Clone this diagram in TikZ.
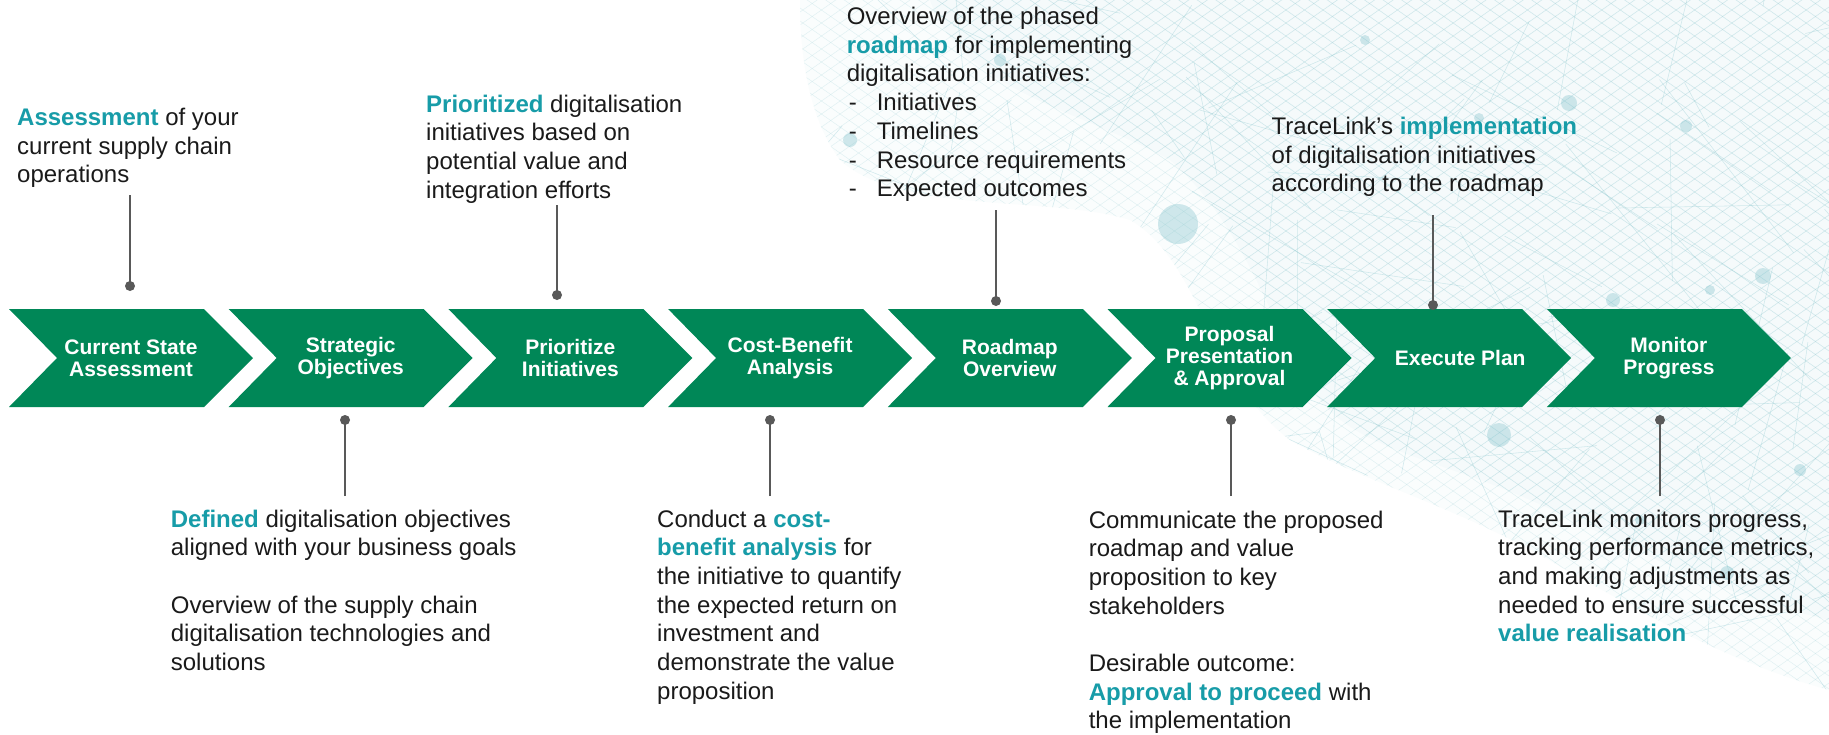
\documentclass[tikz,border=0pt]{standalone}
\usepackage{fontspec}
\setmainfont{Liberation Sans}
\definecolor{chevgreen}{RGB}{0,135,87}
\definecolor{hl}{RGB}{23,156,168}
\definecolor{conn}{RGB}{89,89,89}
\definecolor{txt}{RGB}{26,26,26}
\definecolor{meshc}{RGB}{125,192,202}
\newcommand\hlw[1]{\textcolor{hl}{\bfseries #1}}
\newcommand\mymeshlines[1]{%
  \foreach \c in {-734,-721,...,700}{\draw[meshline,opacity=#1] (780,\c) -- (1829,\c+734);}%
  \foreach \c in {0,13,...,1434}{\draw[meshline,opacity=#1] (780,\c) -- (1829,\c-734);}%
}
\begin{document}
\begin{tikzpicture}[x=1pt,y=-1pt,
  chev/.style={fill=chevgreen},
  chevtext/.style={text=white,font=\fontsize{21}{22.3}\selectfont\bfseries,align=center,inner sep=0pt},
  ann/.style={text=txt,font=\fontsize{24}{28.7}\selectfont,inner sep=0pt,anchor=base west},
  conline/.style={draw=conn,line width=2pt},
  dotn/.style={circle,fill=conn,inner sep=0pt,minimum size=10pt},
  meshline/.style={draw=meshc,line width=0.5pt}]
% canvas
\fill[white] (0,0) rectangle (1829,734);
\useasboundingbox (0,0) rectangle (1829,734);
% background network mesh: outer soft layer
\begin{scope}
\clip (800,0) -- (1829,0) -- (1829,690) .. controls (1720,660) and (1620,600) .. (1540,555)
  .. controls (1450,505) and (1360,480) .. (1290,440) .. controls (1210,380) and (1200,260) .. (1130,220)
  .. controls (1050,195) and (900,215) .. (840,160) .. controls (810,120) and (800,60) .. (800,0) -- cycle;
\fill[meshc,opacity=0.03] (780,0) rectangle (1829,734);
\mymeshlines{0.2}
\pgfmathsetseed{12}
\foreach \k in {1,...,170}{
  \pgfmathsetmacro\ax{800+1029*rnd}
  \pgfmathsetmacro\ay{690*rnd}
  \pgfmathsetmacro\bx{\ax+180*rand}
  \pgfmathsetmacro\by{\ay+180*rand}
  \draw[meshc,opacity=0.32,line width=0.55pt] (\ax,\ay) -- (\bx,\by);
}
\end{scope}
% inner denser layer
\begin{scope}
\clip (930,0) -- (1829,0) -- (1829,620) .. controls (1700,590) and (1600,530) .. (1530,500)
  .. controls (1440,460) and (1360,450) .. (1320,400) .. controls (1270,330) and (1250,230) .. (1170,160)
  .. controls (1080,110) and (960,90) .. (930,0) -- cycle;
\fill[meshc,opacity=0.04] (780,0) rectangle (1829,734);
\mymeshlines{0.15}
\end{scope}
\foreach \cx/\cy/\r in {1178/224/20, 1499/435/12, 1763/276/8, 1569/103/8, 1686/126/6, 1613/300/7,
  1727/573/7, 1000/60/6, 850/140/7, 1479/118/5, 1710/290/5, 1365/40/5, 1800/470/6, 1640/520/5}{
  \fill[meshc,opacity=0.35] (\cx,\cy) circle[radius=\r pt];
}
% chevrons
\foreach \i/\lbl/\dx in {0/{Current State\\Assessment}/122, 1/{Strategic\\Objectives}/122,
  2/{Prioritize\\Initiatives}/122, 3/{Cost-Benefit\\Analysis}/122, 4/{Roadmap\\Overview}/122,
  5/{Proposal\\Presentation\\\& Approval}/122, 6/{Execute Plan}/133, 7/{Monitor\\Progress}/122}{
  \pgfmathsetmacro\L{9+219.7*\i}
  \fill[chev] (\L,309) -- ++(195,0) -- ++(49,49) -- ++(-49,49) -- ++(-195,0) -- ++(48,-49) -- cycle;
  \node[chevtext] (c\i) at (\L+\dx,358) {\lbl};
}
% annotations
\node[ann] (t1) at (17,125.5) {\begin{tabular}[t]{@{}l@{}}\hlw{Assessment} of your\\current supply chain\\operations\end{tabular}};
\node[ann] (t3) at (426,112) {\begin{tabular}[t]{@{}l@{}}\hlw{Prioritized} digitalisation\\initiatives based on\\potential value and\\integration efforts\end{tabular}};
\node[ann] (t5) at (846.6,24.5) {\begin{tabular}[t]{@{}l@{}}Overview of the phased\\\hlw{roadmap} for implementing\\digitalisation initiatives:\\
  \hspace{2pt}\makebox[28pt][l]{-}Initiatives\\\hspace{2pt}\makebox[28pt][l]{-}Timelines\\
  \hspace{2pt}\makebox[28pt][l]{-}Resource requirements\\\hspace{2pt}\makebox[28pt][l]{-}Expected outcomes\end{tabular}};
\node[ann] (t7) at (1271.5,134.3) {\begin{tabular}[t]{@{}l@{}}TraceLink’s \hlw{implementation}\\of digitalisation initiatives\\according to the roadmap\end{tabular}};
\node[ann] (t2) at (170.7,527) {\begin{tabular}[t]{@{}l@{}}\hlw{Defined} digitalisation objectives\\aligned with your business goals\\ \\Overview of the supply chain\\digitalisation technologies and\\solutions\end{tabular}};
\node[ann] (t4) at (657,527) {\begin{tabular}[t]{@{}l@{}}Conduct a \hlw{cost-}\\\hlw{benefit analysis} for\\the initiative to quantify\\the expected return on\\investment and\\demonstrate the value\\proposition\end{tabular}};
\node[ann] (t6) at (1088.6,528) {\begin{tabular}[t]{@{}l@{}}Communicate the proposed\\roadmap and value\\proposition to key\\stakeholders\\ \\Desirable outcome:\\\hlw{Approval to proceed} with\\the implementation\end{tabular}};
\node[ann] (t8) at (1498,527) {\begin{tabular}[t]{@{}l@{}}TraceLink monitors progress,\\tracking performance metrics,\\and making adjustments as\\needed to ensure successful\\\hlw{value realisation}\end{tabular}};
% connectors
\foreach \n/\x/\ya/\yd in {1/130/195/286, 3/557/205/295, 5/996/210/301, 7/1433/215/305,
  2/345/496/420, 4/770/496/420, 6/1231/496/420, 8/1660/496/420}{
  \coordinate (a\n) at (\x,\ya);
  \node[dotn] (d\n) at (\x,\yd) {};
  \draw[conline] (a\n) -- (d\n.center);
}
\end{tikzpicture}
\end{document}
